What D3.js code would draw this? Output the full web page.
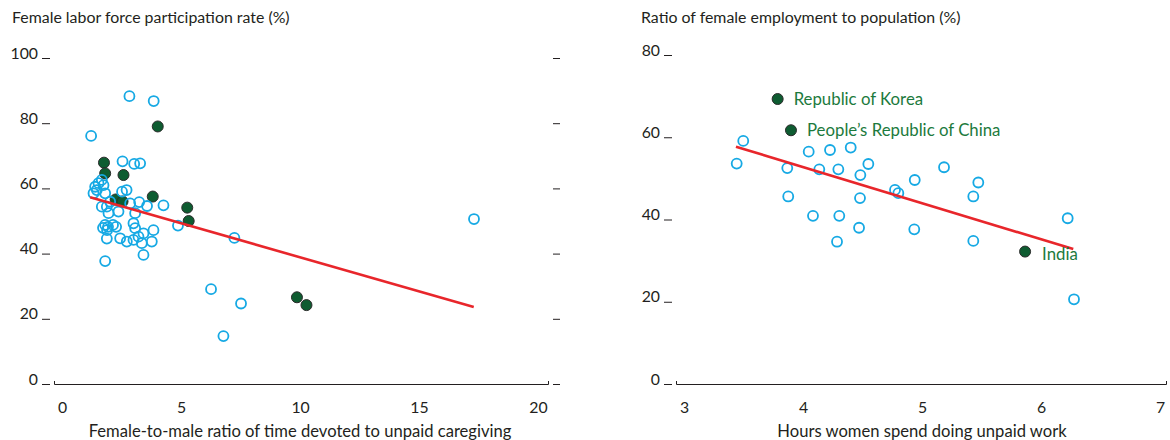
<!DOCTYPE html>
<html><head><meta charset="utf-8">
<script src="https://cdn.jsdelivr.net/npm/d3@7"></script>
<style>
body{margin:0;background:#fff;}
text{font-family:Lato,"Open Sans",sans-serif;fill:#231f20;}
</style></head>
<body><svg id="c" width="1170" height="440"></svg>
<script>
// ---- Left panel data ----
const leftTitle = "Female labor force participation rate (%)";
const leftXTitle = "Female-to-male ratio of time devoted to unpaid caregiving";
const leftYTicks = [0, 20, 40, 60, 80, 100];
const leftXTicks = [0, 5, 10, 15, 20];
const leftOpenX = [1.22,2.83,3.85,2.54,3.03,3.28,17.31,7.24,6.26,7.52,6.78,4.87,4.26,3.57,3.24,2.71,2.52,2.86,1.67,1.53,1.39,1.46,1.32,1.74,1.81,2.02,1.88,1.67,1.95,2.37,3.07,1.81,1.93,2.14,2.27,1.72,1.89,1.88,2.44,2.72,3.00,3.21,3.35,3.42,3.07,3.00,3.84,3.77,3.42,1.81];
const leftOpenY = [76.1,88.3,86.8,68.3,67.5,67.7,50.6,44.8,29.1,24.7,14.7,48.6,54.8,54.6,55.8,59.5,59.0,55.4,62.6,61.6,60.5,59.5,58.5,61.0,58.5,55.9,54.4,54.4,52.4,52.9,52.4,48.8,48.2,48.8,48.2,47.9,47.2,44.6,44.7,43.7,44.2,45.2,43.2,46.2,47.8,49.3,47.2,43.7,39.6,37.7];
const leftDarkX = [1.76,1.81,2.58,4.02,3.81,5.26,5.32,2.25,2.54,9.87,10.27];
const leftDarkY = [67.9,64.6,64.1,79.0,57.5,54.1,50.0,56.6,56.0,26.6,24.2];
const leftTrendX = [1.18, 17.3];
const leftTrendY = [57.3, 23.6];

// ---- Right panel data ----
const rightTitle = "Ratio of female employment to population (%)";
const rightXTitle = "Hours women spend doing unpaid work";
const rightYTicks = [0, 20, 40, 60, 80];
const rightXTicks = [3, 4, 5, 6, 7];
const rightOpenX = [3.498,3.443,3.868,4.048,4.227,4.401,4.137,4.297,4.549,4.482,4.939,4.773,4.801,5.185,3.876,4.479,4.084,4.305,4.471,4.935,4.286,5.473,5.431,5.431,6.224,6.277];
const rightOpenY = [59.1,53.6,52.5,56.5,56.9,57.5,52.2,52.2,53.5,50.8,49.6,47.2,46.4,52.7,45.6,45.2,40.9,40.9,38.0,37.6,34.6,49.0,45.6,34.8,40.3,20.6];
const rightDarkNames = ["Republic of Korea", "People\u2019s Republic of China", "India"];
const rightDarkX = [3.787, 3.899, 5.866];
const rightDarkY = [69.3, 61.7, 32.2];
const rightTrendX = [3.437, 6.271];
const rightTrendY = [57.7, 32.8];

const BLUE = "#16a9e4", RED = "#e8262b", DARK = "#0e5c31", LABEL = "#1c7a3d";
const svg = d3.select("#c");

function panel(cfg) {
  const g = svg.append("g");
  const x = d3.scaleLinear().domain(cfg.xDom).range(cfg.xRange);
  const y = d3.scaleLinear().domain(cfg.yDom).range([384, cfg.yTop]);

  g.append("text").attr("x", cfg.titleX).attr("y", 23).attr("font-size", 15.9).text(cfg.title);

  const ya = g.append("g").attr("transform", `translate(${cfg.yAxisX},0)`)
    .call(d3.axisLeft(y).tickValues(cfg.yTicks).tickSize(8).tickPadding(4));
  ya.select(".domain").remove();
  ya.selectAll("line").attr("stroke", "#231f20");
  ya.selectAll("text").attr("dy", "0").attr("font-size", 15.8).attr("font-family", "Lato,sans-serif").attr("fill", "#231f20");

  if (cfg.rightTickX) {
    const yr = g.append("g").attr("transform", `translate(${cfg.rightTickX},0)`)
      .call(d3.axisRight(y).tickValues(cfg.yTicks).tickSize(7).tickFormat(""));
    yr.select(".domain").remove();
    yr.selectAll("line").attr("stroke", "#231f20");
  }

  const xa = g.append("g").attr("transform", "translate(0,384)")
    .call(d3.axisBottom(x).tickValues(cfg.xTicks).tickFormat(d3.format("d"))
      .tickSizeInner(0).tickSizeOuter(-3).tickPadding(18));
  xa.select(".domain").attr("stroke", "#231f20");
  xa.selectAll("text").attr("font-size", 15.8).attr("font-family", "Lato,sans-serif").attr("fill", "#231f20");

  g.append("text").attr("x", x(cfg.xMid)).attr("y", 437).attr("text-anchor", "middle")
    .attr("font-size", 16.6).text(cfg.xTitle);

  g.selectAll(".dk").data(cfg.darkX).join("circle")
    .attr("cx", (d) => x(d)).attr("cy", (d, i) => y(cfg.darkY[i])).attr("r", 5.5)
    .attr("fill", DARK).attr("stroke", "#2b2b2b").attr("stroke-width", 1);

  g.selectAll(".op").data(cfg.openX).join("circle")
    .attr("cx", (d) => x(d)).attr("cy", (d, i) => y(cfg.openY[i])).attr("r", 5)
    .attr("fill", "none").attr("stroke", BLUE).attr("stroke-width", 1.8);

  g.append("line").attr("x1", x(cfg.trendX[0])).attr("y1", y(cfg.trendY[0]))
    .attr("x2", x(cfg.trendX[1])).attr("y2", y(cfg.trendY[1]))
    .attr("stroke", RED).attr("stroke-width", 2.6);

  if (cfg.names) {
    const offs = [[16, 6], [16, 6], [17, 8]];
    cfg.names.forEach((n, i) => {
      g.append("text").attr("x", x(cfg.darkX[i]) + offs[i][0]).attr("y", y(cfg.darkY[i]) + offs[i][1])
        .attr("font-size", 16.8).style("fill", LABEL).text(n);
    });
  }
}

panel({title: leftTitle, titleX: 12, xTitle: leftXTitle, xDom: [-0.34, 20.42], xRange: [54, 548],
  yDom: [0, 100], yTop: 58, yTicks: leftYTicks, xTicks: leftXTicks, xMid: 10, yAxisX: 50, rightTickX: 553,
  openX: leftOpenX, openY: leftOpenY, darkX: leftDarkX, darkY: leftDarkY, trendX: leftTrendX, trendY: leftTrendY});

panel({title: rightTitle, titleX: 641, xTitle: rightXTitle, xDom: [2.933, 7.05], xRange: [676, 1166],
  yDom: [0, 80], yTop: 55, yTicks: rightYTicks, xTicks: rightXTicks, xMid: 5, yAxisX: 672, rightTickX: null,
  openX: rightOpenX, openY: rightOpenY, darkX: rightDarkX, darkY: rightDarkY, trendX: rightTrendX, trendY: rightTrendY,
  names: rightDarkNames});
</script></body></html>
